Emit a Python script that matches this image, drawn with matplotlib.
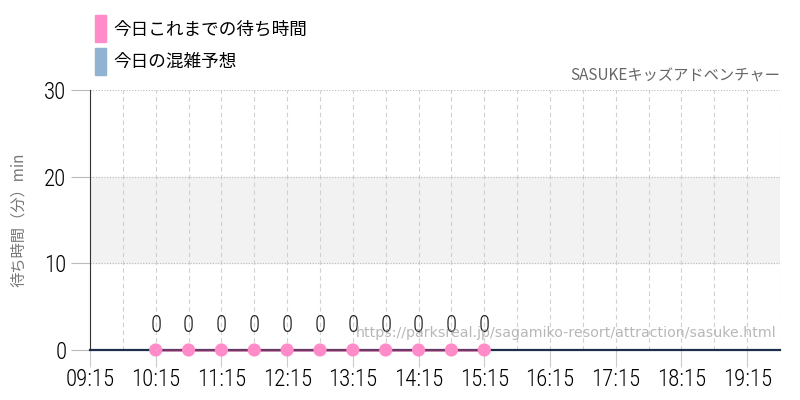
import matplotlib
matplotlib.use("Agg")
from matplotlib import pyplot as plt
from matplotlib.patches import Patch
from matplotlib.ticker import FixedLocator

plt.rcParams["font.family"] = ["Noto Sans CJK JP", "DejaVu Sans"]

# 今日これまでの待ち時間 (時刻, 分)
wait_times = ["10:15", "10:45", "11:15", "11:45", "12:15", "12:45",
              "13:15", "13:45", "14:15", "14:45", "15:15"]
wait_values = [0, 0, 0, 0, 0, 0, 0, 0, 0, 0, 0]

# 今日の混雑予想
forecast_times = ["09:15", "10:15", "11:15", "12:15", "13:15", "14:15",
                  "15:15", "16:15", "17:15", "18:15", "19:15", "19:45"]
forecast_values = [0, 0, 0, 0, 0, 0, 0, 0, 0, 0, 0, 0]

tick_labels = ["09:15", "10:15", "11:15", "12:15", "13:15", "14:15",
               "15:15", "16:15", "17:15", "18:15", "19:15"]

title = "SASUKEキッズアドベンチャー"
url = "https://parksreal.jp/sagamiko-resort/attraction/sasuke.html"


def to_hours(t):
    h, m = t.split(":")
    return int(h) + int(m) / 60.0


NARROW = ["Roboto Condensed", "DejaVu Sans"]

fig = plt.figure(figsize=(8, 4), dpi=100)
ax = fig.add_axes([0.1125, 0.125, 0.8625, 0.65])

x_min, x_max = to_hours("09:15"), to_hours("19:45")
ax.set_xlim(x_min, x_max)
ax.set_ylim(0, 30)

# 混雑帯
ax.axhspan(10, 20, color="#f2f2f2", zorder=0)

# グリッド
ax.xaxis.set_major_locator(FixedLocator([to_hours(t) for t in tick_labels]))
ax.set_xticklabels(tick_labels)
ax.xaxis.set_minor_locator(FixedLocator([to_hours(t) + 0.5 for t in tick_labels]))
ax.set_yticks([0, 10, 20, 30])
ax.grid(True, axis="x", which="both", color="#d0d0d0", linestyle=(0, (4, 3)), linewidth=0.8)
ax.grid(True, axis="y", which="major", color="#bbbbbb", linestyle=(0, (1, 1.5)), linewidth=0.8)

for side in ["top", "right"]:
    ax.spines[side].set_visible(False)
ax.spines["left"].set_color("#333333")
ax.spines["bottom"].set_visible(False)

ax.tick_params(axis="x", which="major", length=12, color="#cccccc", pad=1)
ax.tick_params(axis="x", which="minor", length=0)
ax.tick_params(axis="y", length=14, color="#bbbbbb", pad=3)
for lbl in ax.get_xticklabels() + ax.get_yticklabels():
    lbl.set_family(NARROW)
    lbl.set_stretch("condensed")
    lbl.set_weight("light")
    lbl.set_fontsize(16.5)
    lbl.set_color("#000000")

# 予想ライン
fx = [to_hours(t) for t in forecast_times]
ax.plot(fx, forecast_values, color="#1c2e4a", linewidth=1.6, zorder=3, clip_on=False)

# 実績
wx = [to_hours(t) for t in wait_times]
ax.plot(wx, wait_values, color="#b0407f", alpha=0.6, linewidth=2, zorder=4, clip_on=False)
ax.scatter(wx, wait_values, s=90, color="#ff8cc8", edgecolors="none", zorder=5, clip_on=False)
for x, v in zip(wx, wait_values):
    ax.annotate(str(v), (x, v), xytext=(0, 9), textcoords="offset points",
                ha="center", va="bottom", fontsize=16.5, color="#222222",
                family=NARROW, stretch="condensed", weight="light")

ax.set_ylabel("待ち時間（分）min", color="#777777", fontsize=11, labelpad=12)

ax.text(1.0, 1.02, title, transform=ax.transAxes, ha="right", va="bottom",
        fontsize=11, color="#666666")
ax.text(0.995, 0.04, url, transform=ax.transAxes, ha="right", va="bottom",
        fontsize=10.2, color="#999999", alpha=0.7, family=["DejaVu Sans"], zorder=6)

handles = [Patch(color="#ff8cc8", label="今日これまでの待ち時間"),
           Patch(color="#8fb3d1", label="今日の混雑予想")]
fig.legend(handles=handles, loc="upper left", bbox_to_anchor=(0.119, 0.9625),
           frameon=False, fontsize=12.7, handlelength=0.63, handleheight=2.0,
           handletextpad=0.4, labelspacing=0.3, borderaxespad=0, borderpad=0)

fig.savefig("out.png", dpi=100)
